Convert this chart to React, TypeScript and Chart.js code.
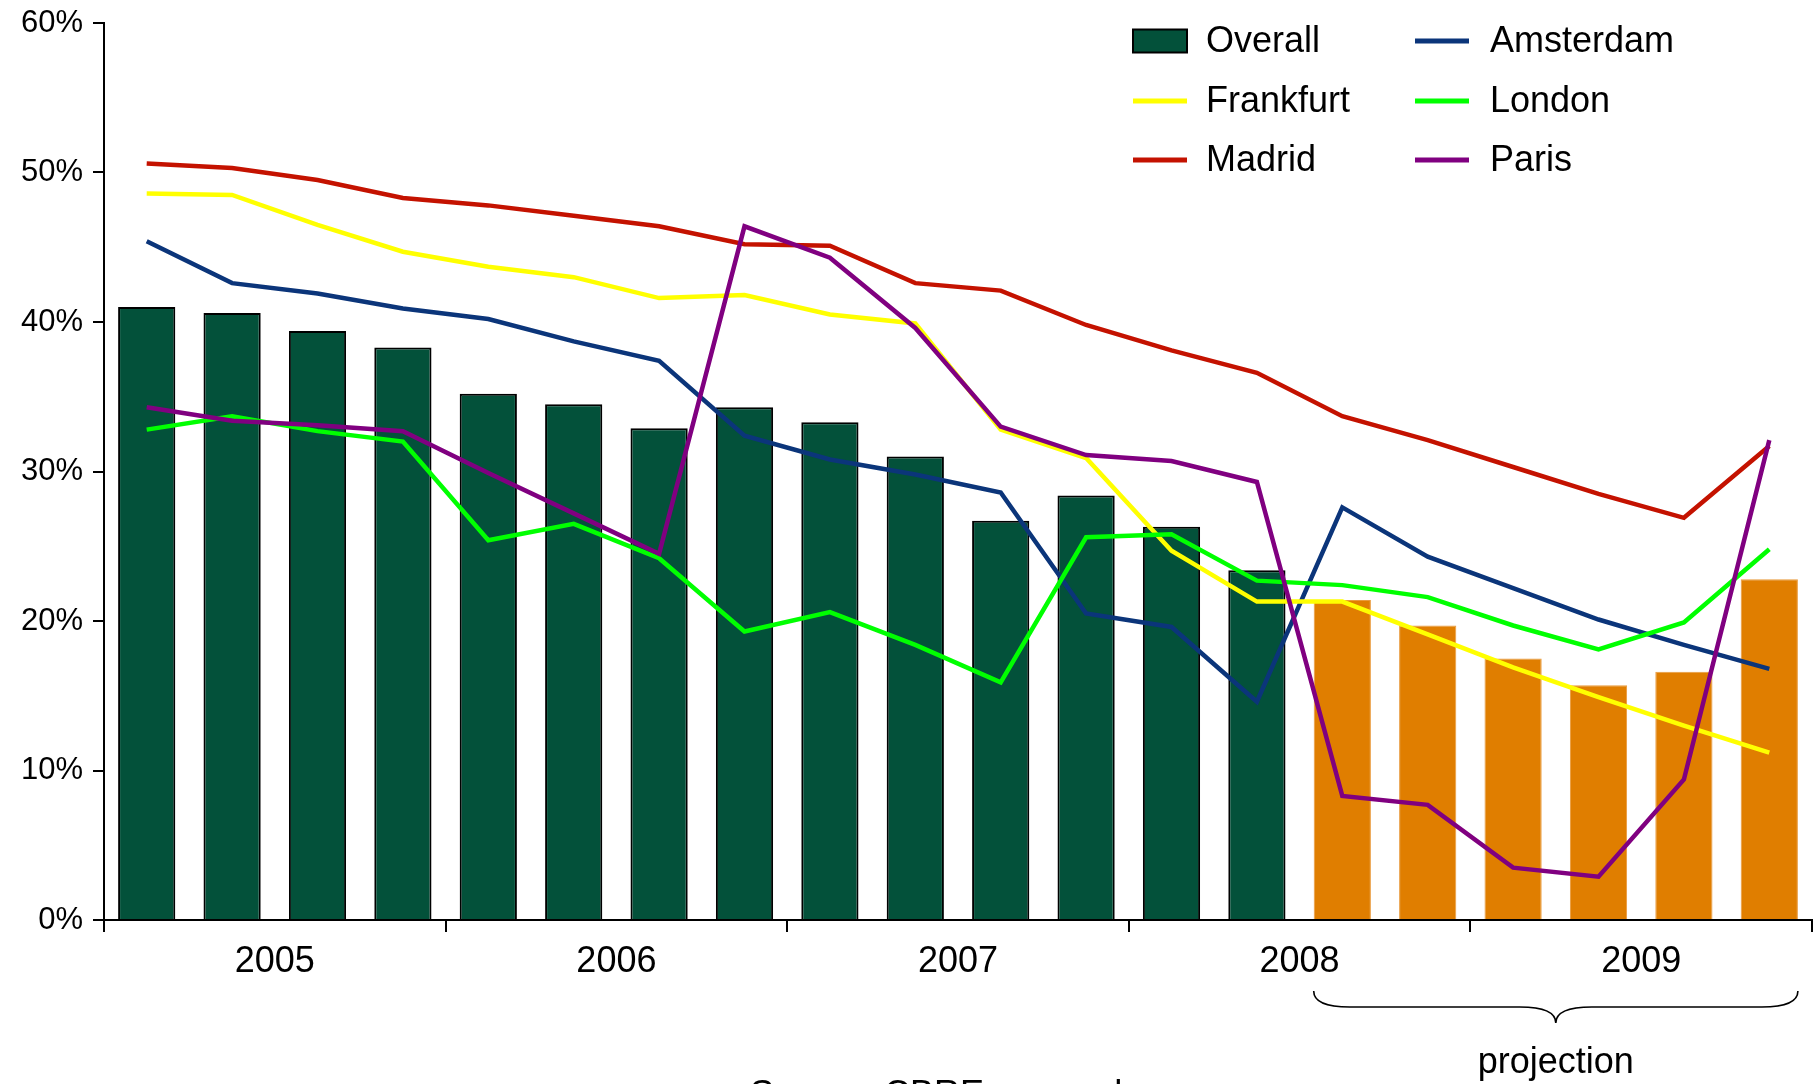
import { useEffect, useRef } from "react";
import { Chart, registerables } from "chart.js";

Chart.register(...registerables);

const FONT = "'Liberation Sans', Arial, Helvetica, sans-serif";

// Quarterly categories, 2005 Q1 – 2009 Q4
const quarters = [
  "2005 Q1", "2005 Q2", "2005 Q3", "2005 Q4",
  "2006 Q1", "2006 Q2", "2006 Q3", "2006 Q4",
  "2007 Q1", "2007 Q2", "2007 Q3", "2007 Q4",
  "2008 Q1", "2008 Q2", "2008 Q3", "2008 Q4",
  "2009 Q1", "2009 Q2", "2009 Q3", "2009 Q4",
];
const years = ["2005", "2006", "2007", "2008", "2009"];

// First quarter that is a projection (2008 Q3 onwards)
const firstProjected = 14;

// Values in percent
const overall = [41.0, 40.6, 39.4, 38.3, 35.2, 34.5, 32.9, 34.3, 33.3, 31.0, 26.7, 28.4, 26.3, 23.4, 21.4, 19.7, 17.5, 15.7, 16.6, 22.8];
const amsterdam = [45.4, 42.6, 41.9, 40.9, 40.2, 38.7, 37.4, 32.4, 30.8, 29.8, 28.6, 20.5, 19.6, 14.6, 27.6, 24.3, 22.2, 20.1, 18.4, 16.8];
const frankfurt = [48.6, 48.5, 46.5, 44.7, 43.7, 43.0, 41.6, 41.8, 40.5, 39.9, 32.8, 30.9, 24.7, 21.3, 21.3, 19.1, 16.9, 14.9, 13.0, 11.2];
const london = [32.8, 33.7, 32.7, 32.0, 25.4, 26.5, 24.2, 19.3, 20.6, 18.4, 15.9, 25.6, 25.8, 22.7, 22.4, 21.6, 19.7, 18.1, 19.9, 24.8];
const madrid = [50.6, 50.3, 49.5, 48.3, 47.8, 47.1, 46.4, 45.2, 45.1, 42.6, 42.1, 39.8, 38.1, 36.6, 33.7, 32.1, 30.3, 28.5, 26.9, 31.7];
const paris = [34.3, 33.4, 33.1, 32.7, 29.9, 27.2, 24.5, 46.4, 44.3, 39.6, 33.0, 31.1, 30.7, 29.3, 8.3, 7.7, 3.5, 2.9, 9.4, 32.1];

const yMin = 0;
const yMax = 60;
const yStep = 10;

const GREEN = "#03513A";
const ORANGE = "#E07E00";

const cornerLegend = {
  id: "cornerLegend",
  afterDraw(chart: any, _args: any, opts: any) {
    const ctx = chart.ctx;
    ctx.save();
    ctx.font = `${opts.fontSize}px ${FONT}`;
    ctx.textBaseline = "middle";
    ctx.textAlign = "left";
    chart.data.datasets.forEach((d: any, i: number) => {
      const col = i % 2;
      const row = Math.floor(i / 2);
      const x = opts.colX[col];
      const y = opts.rowY[row];
      if (d.type === "line") {
        ctx.strokeStyle = d.borderColor;
        ctx.lineWidth = opts.lineWidth;
        ctx.lineCap = "butt";
        ctx.beginPath();
        ctx.moveTo(x, y);
        ctx.lineTo(x + opts.symbolWidth, y);
        ctx.stroke();
      } else {
        ctx.fillStyle = GREEN;
        ctx.fillRect(x, y - opts.boxHeight / 2, opts.symbolWidth, opts.boxHeight);
        ctx.strokeStyle = "#000";
        ctx.lineWidth = 2;
        ctx.strokeRect(x, y - opts.boxHeight / 2, opts.symbolWidth, opts.boxHeight);
      }
      ctx.fillStyle = "#000";
      ctx.fillText(d.label, x + opts.symbolWidth + opts.textGap[col], y + 1);
    });
    ctx.restore();
  },
};

const projectionBrace = {
  id: "projectionBrace",
  afterDraw(chart: any, _args: any, opts: any) {
    const ctx = chart.ctx;
    const meta = chart.getDatasetMeta(0);
    const first = meta.data[firstProjected];
    const last = meta.data[meta.data.length - 1];
    if (!first || !last) return;
    const left = first.x - first.width / 2;
    const right = last.x + last.width / 2;
    const mid = (left + right) / 2;
    const top = opts.top;
    const flat = opts.top + opts.depth / 2;
    const tip = opts.top + opts.depth;
    const r = 36;
    ctx.save();
    ctx.strokeStyle = "#000";
    ctx.lineWidth = 1.6;
    ctx.beginPath();
    ctx.moveTo(left, top);
    ctx.quadraticCurveTo(left, flat, left + r, flat);
    ctx.lineTo(mid - r, flat);
    ctx.quadraticCurveTo(mid, flat, mid, tip);
    ctx.quadraticCurveTo(mid, flat, mid + r, flat);
    ctx.lineTo(right - r, flat);
    ctx.quadraticCurveTo(right, flat, right, top);
    ctx.stroke();

    ctx.fillStyle = "#000";
    ctx.font = `${opts.fontSize}px ${FONT}`;
    ctx.textAlign = "center";
    ctx.textBaseline = "alphabetic";
    ctx.fillText("projection", mid, opts.labelBaseline);

    ctx.textAlign = "left";
    ctx.fillText("Source: CBRE research", opts.sourceX, opts.sourceBaseline);
    ctx.restore();
  },
};

export default function App() {
  const canvasRef = useRef<HTMLCanvasElement | null>(null);

  useEffect(() => {
    const canvas = canvasRef.current;
    if (!canvas) return;

    const lineDs = (label: string, data: number[], color: string, order: number) => ({
      type: "line" as const,
      label,
      data,
      borderColor: color,
      backgroundColor: color,
      borderWidth: 4.5,
      pointRadius: 0,
      tension: 0,
      fill: false,
      order,
      xAxisID: "x",
      yAxisID: "y",
    });

    const chart = new Chart(canvas, {
      type: "bar",
      data: {
        labels: quarters,
        datasets: [
          {
            type: "bar" as const,
            label: "Overall",
            data: overall,
            backgroundColor: overall.map((_, i) => (i < firstProjected ? GREEN : ORANGE)),
            borderColor: overall.map((_, i) => (i < firstProjected ? "#000" : "#E99A3C")),
            borderWidth: overall.map((_, i) => (i < firstProjected ? 2 : 1)),
            barPercentage: 0.67,
            categoryPercentage: 1,
            order: 10,
            xAxisID: "x",
            yAxisID: "y",
          },
          lineDs("Amsterdam", amsterdam, "#0B357A", 6),
          lineDs("Frankfurt", frankfurt, "#FFFF00", 5),
          lineDs("London", london, "#00FF00", 4),
          lineDs("Madrid", madrid, "#C41200", 3),
          lineDs("Paris", paris, "#800080", 2),
        ],
      } as any,
      options: {
        responsive: false,
        animation: false,
        devicePixelRatio: 1,
        layout: { padding: { left: 0, top: 23, right: 4, bottom: 0 } },
        plugins: {
          legend: { display: false },
          tooltip: { enabled: false },
          cornerLegend: {
            colX: [1133, 1415],
            rowY: [41, 101, 160],
            symbolWidth: 54,
            boxHeight: 23,
            lineWidth: 5,
            textGap: [19, 21],
            fontSize: 36,
          },
          projectionBrace: {
            top: 991,
            depth: 32,
            fontSize: 36,
            labelBaseline: 1073,
            sourceX: 750,
            sourceBaseline: 1106,
          },
        } as any,
        scales: {
          x: {
            type: "category",
            display: false,
            offset: true,
          },
          x2: {
            type: "category",
            labels: years,
            position: "bottom",
            offset: true,
            grid: {
              offset: true,
              drawOnChartArea: false,
              drawTicks: true,
              tickLength: 12,
              color: "#000",
              lineWidth: 2,
            },
            border: { display: true, color: "#000", width: 2 },
            ticks: {
              color: "#000",
              font: { family: FONT, size: 36 },
              padding: 8,
              maxRotation: 0,
              autoSkip: false,
            },
            afterFit(scale: any) {
              scale.height = 164;
            },
          },
          y: {
            type: "linear",
            min: yMin,
            max: yMax,
            grid: {
              drawOnChartArea: false,
              drawTicks: true,
              tickLength: 11,
              color: "#000",
              lineWidth: 2,
            },
            border: { display: true, color: "#000", width: 2 },
            ticks: {
              stepSize: yStep,
              color: "#000",
              font: { family: FONT, size: 31 },
              padding: 10,
              callback: (v: any) => `${v}%`,
            },
            afterFit(scale: any) {
              scale.width = 104;
              scale.paddingTop = 0;
              scale.paddingBottom = 0;
            },
          },
        },
      } as any,
      plugins: [cornerLegend, projectionBrace],
    });

    return () => chart.destroy();
  }, []);

  return (
    <div style={{ position: "fixed", left: 0, top: 0, width: 1816, height: 1084, background: "#fff", overflow: "hidden" }}>
      <canvas ref={canvasRef} width={1816} height={1084} style={{ display: "block" }} />
    </div>
  );
}
